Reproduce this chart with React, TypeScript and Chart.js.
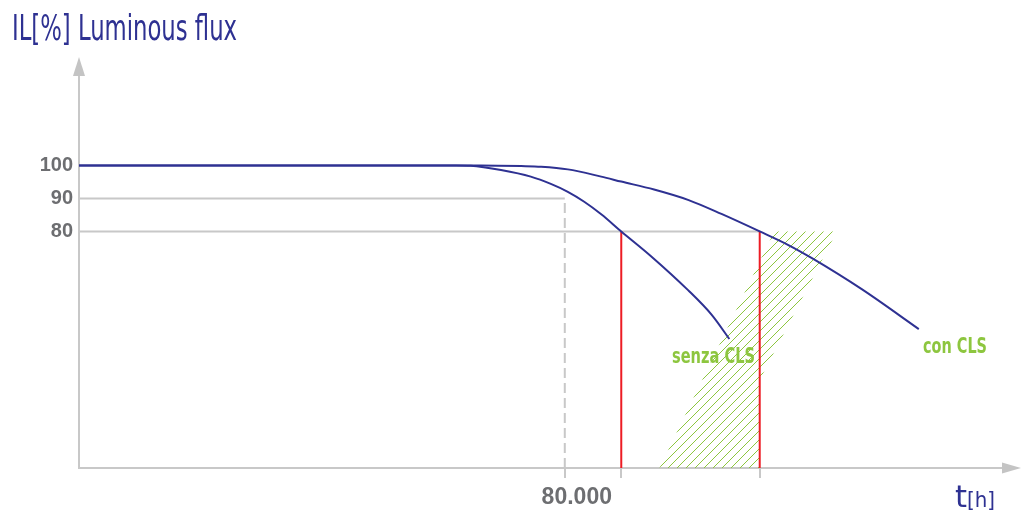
import React, { useEffect, useRef } from 'react';
import { Chart, registerables } from 'chart.js';

Chart.register(...registerables);

// ---- data (x in thousands of hours, y in % luminous flux) ----
const senzaX = [0, 62.1, 64.5, 69.5, 74.4, 77.7, 80.5, 83.2, 86.0, 89.3, 94.2, 100.3, 104.2, 107.1];
const senzaY = [100, 100, 99.9, 98.6, 96.6, 94.4, 92.0, 89.0, 85.2, 80.0, 72.5, 62.2, 54.7, 47.4];
const conX = [0, 66.2, 72.8, 76.1, 80.5, 86.0, 89.3, 94.7, 100.4, 105.8, 112.1, 116.9, 120.7, 128.9, 138.3];
const conY = [100, 100, 99.8, 99.6, 98.8, 96.6, 95.1, 92.7, 89.5, 85.3, 80.0, 75.8, 71.9, 62.5, 50.4];
const redX = [89.3, 112.1];
const levelY = [90, 80];
const levelEndX = [80, 112.1];
const yMin = 8.3;
const yMax = 127.1;
const xMax = 152;
const yTicks = [80, 90, 100];
const xTicks = [80, 89.3, 112.1];
const xTickLabels = ['80.000', '', ''];
const hatchX = [114.5, 124.8, 112.1, 112.1, 95.6];
const hatchY = [80, 80, 35.0, yMin, yMin];
const yTitle = 'IL[%] Luminous flux';
const xTitleMain = 't';
const xTitleUnit = '[h]';
const labelSenza = 'senza CLS';
const labelCon = 'con CLS';

const NAVY = '#2e3192';
const GREEN = '#8dc63f';
const RED = '#ed1c24';
const GREY_LINE = '#c8c8c8';
const GREY_TEXT = '#6d6e71';
const NARROW = '"Liberation Sans Narrow", "DejaVu Sans Condensed", "Liberation Sans", sans-serif';
const SANS = '"Liberation Sans", Arial, sans-serif';

function fitText(ctx: CanvasRenderingContext2D, text: string, x: number, base: number, width: number, font: string, color: string) {
  ctx.save();
  ctx.font = font;
  ctx.fillStyle = color;
  ctx.textAlign = 'left';
  ctx.textBaseline = 'alphabetic';
  const w = ctx.measureText(text).width;
  ctx.translate(x, base);
  ctx.scale(width / w, 1);
  ctx.fillText(text, 0, 0);
  ctx.restore();
}

const decorPlugin = {
  id: 'decor',
  beforeDatasetsDraw(chart: any) {
    const { ctx, chartArea: a } = chart;
    const xs = chart.scales.x;
    const ys = chart.scales.y;
    ctx.save();
    ctx.beginPath();
    hatchX.forEach((v, i) => {
      const px = xs.getPixelForValue(v);
      const py = ys.getPixelForValue(hatchY[i]);
      if (i === 0) ctx.moveTo(px, py);
      else ctx.lineTo(px, py);
    });
    ctx.closePath();
    ctx.clip();
    ctx.beginPath();
    ctx.strokeStyle = GREEN;
    ctx.lineWidth = 1;
    const h = a.bottom - a.top;
    for (let c = a.left - h; c < a.right; c += 9) {
      ctx.moveTo(c, a.bottom);
      ctx.lineTo(c + h, a.top);
    }
    ctx.stroke();
    ctx.restore();
  },
  afterDraw(chart: any) {
    const { ctx, chartArea: a } = chart;
    ctx.save();
    ctx.fillStyle = '#c4c4c4';
    // y arrow
    ctx.beginPath();
    ctx.moveTo(a.left - 6, a.top);
    ctx.lineTo(a.left + 6, a.top);
    ctx.lineTo(a.left, a.top - 19);
    ctx.closePath();
    ctx.fill();
    // x arrow
    ctx.beginPath();
    ctx.moveTo(a.right, a.bottom - 5.5);
    ctx.lineTo(a.right, a.bottom + 5.5);
    ctx.lineTo(a.right + 19, a.bottom);
    ctx.closePath();
    ctx.fill();
    ctx.restore();

    fitText(ctx, yTitle, 12, 40, 225, `36px ${NARROW}`, NAVY);
    fitText(ctx, xTitleMain, 955, 507, 12, `30px ${NARROW}`, NAVY);
    fitText(ctx, xTitleUnit, 967, 507, 28, `22px ${NARROW}`, NAVY);
    fitText(ctx, labelSenza, 672, 363, 83, `bold 22px ${NARROW}`, GREEN);
    fitText(ctx, labelCon, 923, 353, 64, `bold 22px ${NARROW}`, GREEN);
  },
};

const pts = (xs: number[], ys: number[]) => xs.map((x, i) => ({ x, y: ys[i] }));

export default function App() {
  const ref = useRef<HTMLCanvasElement | null>(null);
  useEffect(() => {
    if (!ref.current) return;
    const lineBase = { pointRadius: 0, showLine: true, fill: false, tension: 0 };
    const datasets: any[] = [
      { ...lineBase, label: labelSenza, data: pts(senzaX, senzaY), borderColor: NAVY, borderWidth: 2, cubicInterpolationMode: 'monotone', order: 0 },
      { ...lineBase, label: labelCon, data: pts(conX, conY), borderColor: NAVY, borderWidth: 2, cubicInterpolationMode: 'monotone', order: 0 },
      ...redX.map((rx, i) => ({ ...lineBase, label: 'red' + i, data: [{ x: rx, y: yMin }, { x: rx, y: 80 }], borderColor: RED, borderWidth: 2, order: 1 })),
      ...levelY.map((ly, i) => ({ ...lineBase, label: 'lvl' + i, data: [{ x: 0, y: ly }, { x: levelEndX[i], y: ly }], borderColor: GREY_LINE, borderWidth: 2, order: 3 })),
      { ...lineBase, label: 'dash', data: [{ x: xTicks[0], y: yMin }, { x: xTicks[0], y: levelY[0] }], borderColor: GREY_LINE, borderWidth: 2, borderDash: [10, 5], order: 3 },
    ];
    const chart = new Chart(ref.current, {
      type: 'scatter',
      data: { datasets },
      options: {
        animation: false,
        responsive: false,
        maintainAspectRatio: false,
        layout: { padding: { top: 76, right: 27, bottom: 0, left: 0 } },
        plugins: { legend: { display: false }, tooltip: { enabled: false }, title: { display: false } },
        scales: {
          x: {
            type: 'linear',
            min: 0,
            max: xMax,
            afterFit: (s: any) => { s.height = 44; },
            afterBuildTicks: (s: any) => { s.ticks = xTicks.map((v) => ({ value: v })); },
            ticks: {
              autoSkip: false,
              maxRotation: 0,
              labelOffset: 12,
              padding: 6,
              color: GREY_TEXT,
              font: { family: SANS, size: 23, weight: 'bold' },
              callback: (v: any) => { const i = xTicks.indexOf(Number(v)); return i >= 0 ? xTickLabels[i] : ''; },
            },
            grid: { drawOnChartArea: false, drawTicks: true, tickLength: 10, color: GREY_LINE, lineWidth: 2 },
            border: { display: true, color: GREY_LINE, width: 2 },
          },
          y: {
            type: 'linear',
            min: yMin,
            max: yMax,
            afterFit: (s: any) => { s.width = 79; },
            afterBuildTicks: (s: any) => { s.ticks = yTicks.map((v) => ({ value: v })); },
            ticks: {
              padding: 6,
              color: GREY_TEXT,
              font: { family: SANS, size: 20, weight: 'bold' },
              callback: (v: any) => String(v),
            },
            grid: { drawOnChartArea: false, drawTicks: false },
            border: { display: true, color: GREY_LINE, width: 2 },
          },
        },
      },
      plugins: [decorPlugin],
    } as any);
    return () => chart.destroy();
  }, []);
  return (
    <div style={{ position: 'fixed', left: 0, top: 0, width: 1029, height: 512, background: '#fff' }}>
      <canvas ref={ref} width={1029} height={512} style={{ display: 'block' }} />
    </div>
  );
}
